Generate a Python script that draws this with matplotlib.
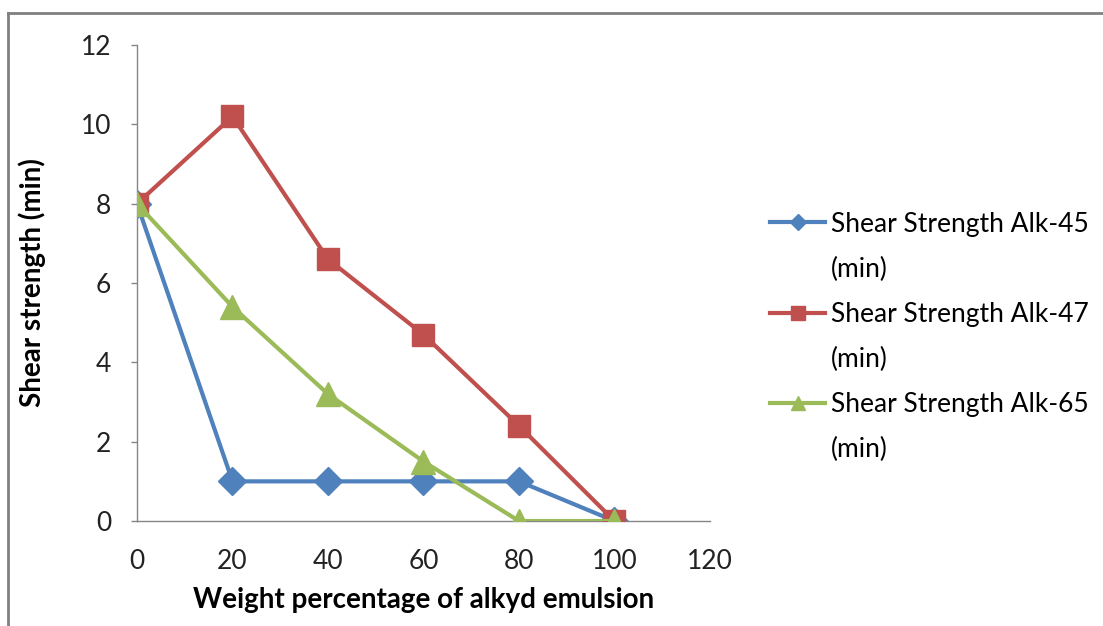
import matplotlib.pyplot as plt
from matplotlib.lines import Line2D

plt.rcParams['font.family'] = ['Lato', 'DejaVu Sans']

x = [0, 20, 40, 60, 80, 100]
alk45 = [8, 1, 1, 1, 1, 0]
alk47 = [8, 10.2, 6.6, 4.7, 2.4, 0]
alk65 = [8, 5.4, 3.2, 1.5, 0, 0]
names = ['Shear Strength Alk-45', 'Shear Strength Alk-47', 'Shear Strength Alk-65']
colors = ['#4F81BD', '#C0504D', '#9BBB59']

fig = plt.figure(figsize=(11.03, 6.26), dpi=100)
ax = fig.add_axes([0.1242, 0.1677, 0.5195, 0.7604])

l1, = ax.plot(x, alk45, color=colors[0], lw=3, marker='D', ms=14, zorder=2)
l2, = ax.plot(x, alk47, color=colors[1], lw=3, marker='s', ms=16, zorder=3)
l3, = ax.plot(x, alk65, color=colors[2], lw=3, marker='^', ms=17, zorder=4)

ax.set_xlim(0, 120)
ax.set_ylim(0, 12)
ax.set_xticks(range(0, 121, 20))
ax.set_yticks(range(0, 13, 2))
for s in ['top', 'right']:
    ax.spines[s].set_visible(False)
for s in ['left', 'bottom']:
    ax.spines[s].set_color('#868686')
    ax.spines[s].set_linewidth(1)
ax.tick_params(axis='y', direction='out', length=4.5, width=1, color='#868686',
               pad=14, labelsize=19, labelcolor='#222222')
ax.tick_params(axis='x', length=0, pad=20, labelsize=19, labelcolor='#222222')

ax.set_xlabel('Weight percentage of alkyd emulsion', fontsize=20, fontweight='bold')
ax.set_ylabel('Shear strength (min)', fontsize=20, fontweight='bold')
ax.xaxis.set_label_coords(0.5, -0.138)
ax.yaxis.set_label_coords(-0.158, 0.5)

blank = Line2D([], [], color='none')
handles = [l1, blank, l2, blank, l3, blank]
labels = [names[0], '(min)', names[1], '(min)', names[2], '(min)']
fig.legend(handles, labels, loc='upper left', bbox_to_anchor=(0.698, 0.662),
           frameon=False, fontsize=19, handlelength=2.1, handletextpad=0.2,
           borderpad=0, borderaxespad=0, labelspacing=0.76, markerscale=0.6)

# outer border of the chart area (top and left edges)
fig.add_artist(Line2D([8 / 1103, 8 / 1103], [0, 1 - 13 / 626], transform=fig.transFigure,
                      color='#808080', lw=2))
fig.add_artist(Line2D([8 / 1103, 1], [1 - 13 / 626, 1 - 13 / 626], transform=fig.transFigure,
                      color='#808080', lw=2))

fig.savefig('out.png', dpi=100)
